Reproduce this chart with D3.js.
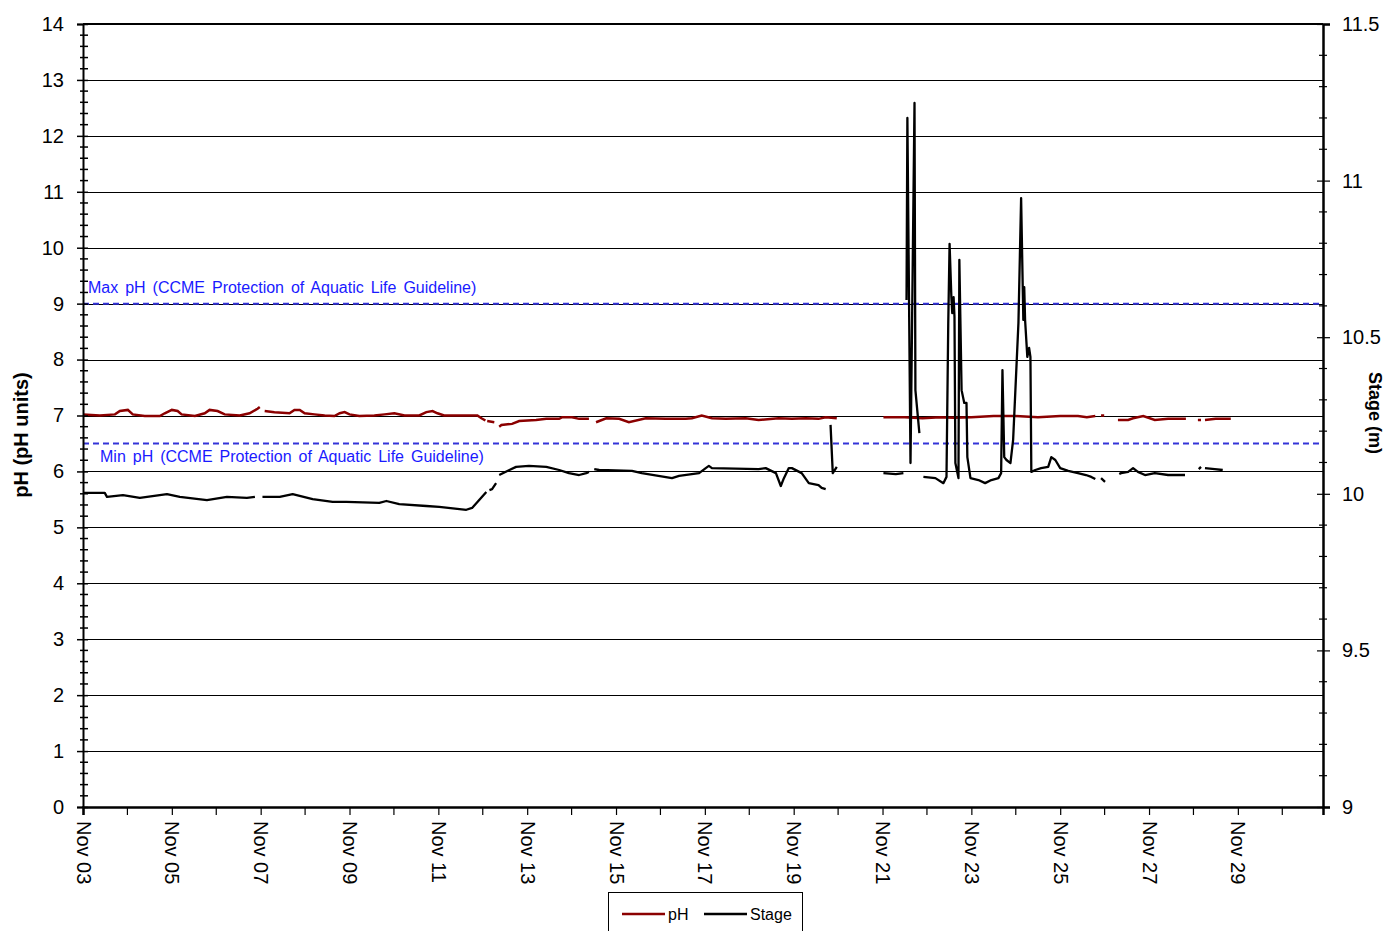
<!DOCTYPE html>
<html>
<head>
<meta charset="utf-8">
<script src="https://cdnjs.cloudflare.com/ajax/libs/d3/7.8.5/d3.min.js"></script>
<style>
  body { margin: 0; background: #fff; }
  svg { font-family: "Liberation Sans", Arial, sans-serif; }
</style>
</head>
<body>
<div id="chart"></div>
<script>
// dni od 3 listopada (00:00), wartości pH i stanu wody; null = przerwa w danych
const phSeries = [
  [0,7.02],[0.38,7.00],[0.72,7.02],[0.83,7.08],[1.01,7.10],[1.12,7.02],[1.39,6.99],[1.73,6.99],
  [1.84,7.04],[2.00,7.10],[2.13,7.08],[2.22,7.02],[2.52,6.99],[2.74,7.04],[2.85,7.10],[3.03,7.08],
  [3.19,7.02],[3.53,7.00],[3.75,7.04],[3.93,7.12],[3.98,7.15], null,
  [4.09,7.08],[4.31,7.06],[4.65,7.04],[4.76,7.10],[4.88,7.10],[4.99,7.04],[5.21,7.02],[5.44,7.00],
  [5.66,6.99],[5.78,7.04],[5.89,7.06],[6.00,7.02],[6.22,6.99],[6.56,7.00],[6.79,7.02],[7.01,7.04],
  [7.24,7.00],[7.57,7.00],[7.73,7.06],[7.87,7.08],[7.98,7.04],[8.13,7.00],[8.58,7.00],[8.88,7.00],
  [8.97,6.95],[9.06,6.91], null,
  [9.10,6.90],[9.26,6.88], null,
  [9.37,6.80],[9.42,6.83],[9.66,6.85],[9.82,6.90],[10.20,6.92],[10.43,6.94],[10.72,6.94],[10.79,6.97],
  [11.01,6.97],[11.17,6.94],[11.39,6.94], null,
  [11.55,6.88],[11.78,6.95],[12.07,6.94],[12.29,6.88],[12.67,6.95],[13.12,6.94],[13.57,6.94],[13.71,6.95],
  [13.93,7.00],[14.16,6.95],[14.47,6.94],[14.92,6.95],[15.21,6.92],[15.66,6.95],[15.96,6.94],[16.27,6.95],
  [16.56,6.94],[16.72,6.97],[16.97,6.95], null,
  [18.02,6.97],[18.5,6.97],[18.9,6.95],[19.3,6.97],[19.6,6.96],[20.0,6.97],[20.5,6.99],[21.0,6.99],
  [21.5,6.97],[22.0,6.99],[22.4,6.99],[22.6,6.97],[22.79,6.99], null,
  [22.92,7.00],[22.99,7.00], null,
  [23.30,6.92],[23.53,6.92],[23.64,6.95],[23.87,6.99],[24.13,6.92],[24.43,6.94],[24.83,6.94], null,
  [25.10,6.92],[25.17,6.92], null,
  [25.26,6.92],[25.5,6.94],[25.84,6.94]
];

const stageSeries = [
  [0,10.003],[0.49,10.003],[0.54,9.990],[0.90,9.996],[1.28,9.987],[1.89,9.999],[2.18,9.990],[2.79,9.980],
  [3.24,9.990],[3.69,9.987],[3.87,9.990], null,
  [4.04,9.990],[4.43,9.990],[4.72,9.999],[5.17,9.983],[5.62,9.974],[5.93,9.974],[6.67,9.971],[6.83,9.977],
  [7.12,9.967],[7.73,9.961],[8.02,9.958],[8.63,9.949],[8.76,9.955],[8.88,9.974],[9.08,10.006], null,
  [9.15,10.012],[9.21,10.015],[9.30,10.034], null,
  [9.37,10.060],[9.60,10.076],[9.75,10.086],[10.04,10.089],[10.43,10.086],[10.72,10.076],[10.94,10.066],
  [11.17,10.060],[11.33,10.066],[11.39,10.070], null,
  [11.51,10.079],[11.62,10.076],[12.36,10.073],[12.58,10.066],[13.26,10.050],[13.42,10.057],[13.87,10.066],
  [14.02,10.082],[14.09,10.089],[14.16,10.082],[15.21,10.079],[15.37,10.082],[15.60,10.066],[15.71,10.025],
  [15.78,10.050],[15.89,10.082],[15.96,10.082],[16.18,10.066],[16.34,10.034],[16.56,10.028],[16.63,10.019],
  [16.72,10.015], null,
  [16.83,10.220],[16.88,10.066],[16.97,10.086], null,
  [18.02,10.066],[18.3,10.063],[18.47,10.066], null,
  [18.54,10.619],[18.56,11.200],[18.63,10.098],[18.72,11.248],[18.74,10.331],[18.83,10.194], null,
  [18.92,10.054],[19.19,10.050],[19.37,10.034],[19.44,10.054],[19.48,10.545],[19.51,10.798],[19.55,10.628],
  [19.57,10.577],[19.60,10.628],[19.62,10.565],[19.64,10.098],[19.71,10.050],[19.73,10.747],[19.78,10.331],
  [19.84,10.290],[19.89,10.290],[19.91,10.117],[19.98,10.050],[20.16,10.044],[20.31,10.034],[20.45,10.044],
  [20.61,10.050],[20.67,10.066],[20.70,10.395],[20.74,10.117],[20.79,10.108],[20.88,10.098],[20.94,10.172],
  [21.06,10.545],[21.12,10.944],[21.17,10.555],[21.19,10.660],[21.21,10.555],[21.26,10.437],[21.30,10.466],
  [21.33,10.437],[21.35,10.070],[21.44,10.076],[21.57,10.082],[21.73,10.086],[21.80,10.117],[21.89,10.108],
  [22.00,10.082],[22.18,10.073],[22.40,10.066],[22.58,10.060],[22.70,10.054],[22.79,10.047], null,
  [22.92,10.050],[23.01,10.038], null,
  [23.33,10.063],[23.37,10.066],[23.53,10.070],[23.64,10.082],[23.75,10.070],[23.91,10.060],[24.13,10.066],
  [24.43,10.060],[24.81,10.060], null,
  [25.12,10.079],[25.17,10.086], null,
  [25.26,10.082],[25.48,10.079],[25.66,10.076]
];

const guidelines = [
  { value: 9, label: "Max pH (CCME Protection of Aquatic Life Guideline)", above: true },
  { value: 6.5, label: "Min pH (CCME Protection of Aquatic Life Guideline)", above: false }
];
const phTicks = d3.range(0, 15, 1);
const stageTicks = [9, 9.5, 10, 10.5, 11, 11.5];

const width = 1387, height = 931;
const mLeft = 83, mRight = 1323, mTop = 24, mBottom = 807;
const font = "Liberation Sans, Arial, sans-serif";

const start = new Date(2009, 10, 3);
const end = d3.timeHour.offset(start, 670);
const toDate = d => d3.timeMinute.offset(start, Math.round(d * 24 * 60));

const x = d3.scaleTime().domain([start, end]).range([mLeft, mRight]);
const y = d3.scaleLinear().domain([0, 14]).range([mBottom, mTop]);
const y2 = d3.scaleLinear().domain([9, 11.5]).range([mBottom, mTop]);

const svg = d3.select("#chart").append("svg")
  .attr("width", width).attr("height", height);

// siatka pozioma
svg.append("g").selectAll("line")
  .data(phTicks.filter(v => v > 0 && v < 14))
  .enter().append("line")
  .attr("x1", mLeft).attr("x2", mRight)
  .attr("y1", d => Math.round(y(d)) + 0.5).attr("y2", d => Math.round(y(d)) + 0.5)
  .attr("stroke", "#000").attr("stroke-width", 1);

// linie wytycznych
guidelines.forEach(g => {
  svg.append("line")
    .attr("x1", mLeft).attr("x2", mRight)
    .attr("y1", y(g.value)).attr("y2", y(g.value))
    .attr("stroke", "#3434d8").attr("stroke-width", 2)
    .attr("stroke-dasharray", "6,4");
  svg.append("text")
    .attr("x", g.above ? mLeft + 5 : mLeft + 17)
    .attr("y", g.above ? y(g.value) - 11 : y(g.value) + 18.5)
    .attr("fill", "#1a1aff").attr("font-size", "16px")
    .attr("word-spacing", "2.5px")
    .text(g.label);
});

// serie
const line = (yy) => d3.line()
  .defined(d => d !== null)
  .x(d => x(toDate(d[0])))
  .y(d => yy(d[1]));

svg.append("path").datum(phSeries)
  .attr("d", line(y))
  .attr("fill", "none").attr("stroke", "#8b0000").attr("stroke-width", 2.5);

svg.append("path").datum(stageSeries)
  .attr("d", line(y2))
  .attr("fill", "none").attr("stroke", "#000").attr("stroke-width", 2.3)
  .attr("stroke-linejoin", "round");

// ramka
svg.append("line").attr("x1", mLeft).attr("x2", mRight).attr("y1", mTop).attr("y2", mTop)
  .attr("stroke", "#000").attr("stroke-width", 2);

// oś lewa
const yAxis = svg.append("g").attr("transform", `translate(${mLeft},0)`)
  .call(d3.axisLeft(y).tickValues(phTicks).tickSize(6).tickPadding(13));
yAxis.select(".domain").attr("stroke-width", 2);
yAxis.selectAll(".tick line").attr("x2", -6).attr("x1", 5).attr("stroke-width", 1.5);
yAxis.selectAll(".tick text").attr("font-size", "20px").attr("fill", "#000")
  .attr("font-family", font);
svg.append("g").selectAll("line")
  .data(d3.range(0, 14.01, 0.2).filter(v => Math.abs(v - Math.round(v)) > 0.01))
  .enter().append("line")
  .attr("x1", mLeft - 3).attr("x2", mLeft + 5)
  .attr("y1", d => y(d)).attr("y2", d => y(d))
  .attr("stroke", "#000").attr("stroke-width", 1.5);

// oś prawa
const y2Axis = svg.append("g").attr("transform", `translate(${mRight},0)`)
  .call(d3.axisRight(y2).tickValues(stageTicks).tickSize(7).tickPadding(12).tickFormat(d3.format("")));
y2Axis.select(".domain").attr("stroke-width", 2.5);
y2Axis.selectAll(".tick line").attr("x1", -6).attr("stroke-width", 1.2);
y2Axis.selectAll(".tick text").attr("font-size", "20px").attr("fill", "#000")
  .attr("font-family", font);
svg.append("g").selectAll("line")
  .data(d3.range(9, 11.51, 0.1).filter(v => Math.abs(v * 2 - Math.round(v * 2)) > 0.01))
  .enter().append("line")
  .attr("x1", mRight - 4).attr("x2", mRight + 4)
  .attr("y1", d => y2(d)).attr("y2", d => y2(d))
  .attr("stroke", "#000").attr("stroke-width", 1.2);

// oś dolna
const majorDays = d3.timeDay.range(start, end, 2);
const minorDays = d3.timeDay.range(start, end).filter((d, i) => i % 2 === 1);
const xAxis = svg.append("g").attr("transform", `translate(0,${mBottom})`)
  .call(d3.axisBottom(x).tickValues(majorDays).tickSize(8).tickFormat(d3.timeFormat("%b %d")));
xAxis.select(".domain").attr("stroke-width", 2.5);
xAxis.selectAll(".tick line").attr("stroke-width", 1.2);
xAxis.selectAll(".tick text")
  .attr("font-size", "20px").attr("fill", "#000")
  .attr("font-family", font)
  .attr("text-anchor", "start")
  .attr("transform", "translate(0,14) rotate(90)")
  .attr("x", 0).attr("y", 0).attr("dy", "0.35em");
svg.append("g").selectAll("line")
  .data(minorDays)
  .enter().append("line")
  .attr("x1", d => x(d)).attr("x2", d => x(d))
  .attr("y1", mBottom).attr("y2", mBottom + 8)
  .attr("stroke", "#000").attr("stroke-width", 1.2);

// tytuły osi
svg.append("text")
  .attr("transform", `translate(28,435) rotate(-90)`)
  .attr("text-anchor", "middle")
  .attr("font-size", "20px").attr("font-weight", "bold")
  .text("pH (pH units)");
svg.append("text")
  .attr("transform", `translate(1369,413) rotate(90)`)
  .attr("text-anchor", "middle")
  .attr("font-size", "18px").attr("font-weight", "bold")
  .text("Stage (m)");

// legenda
const legend = svg.append("g").attr("transform", "translate(608,892)");
legend.append("rect").attr("x", 0.5).attr("y", 0.5).attr("width", 194).attr("height", 50)
  .attr("fill", "#fff").attr("stroke", "#000").attr("stroke-width", 1);
const items = [{ name: "pH", color: "#8b0000", x: 14, w: 43 }, { name: "Stage", color: "#000", x: 96, w: 43 }];
items.forEach(it => {
  legend.append("line").attr("x1", it.x).attr("x2", it.x + it.w)
    .attr("y1", 22).attr("y2", 22).attr("stroke", it.color).attr("stroke-width", 2.5);
  legend.append("text").attr("x", it.x + it.w + 3).attr("y", 28)
    .attr("font-size", "16px").text(it.name);
});
</script>
</body>
</html>
